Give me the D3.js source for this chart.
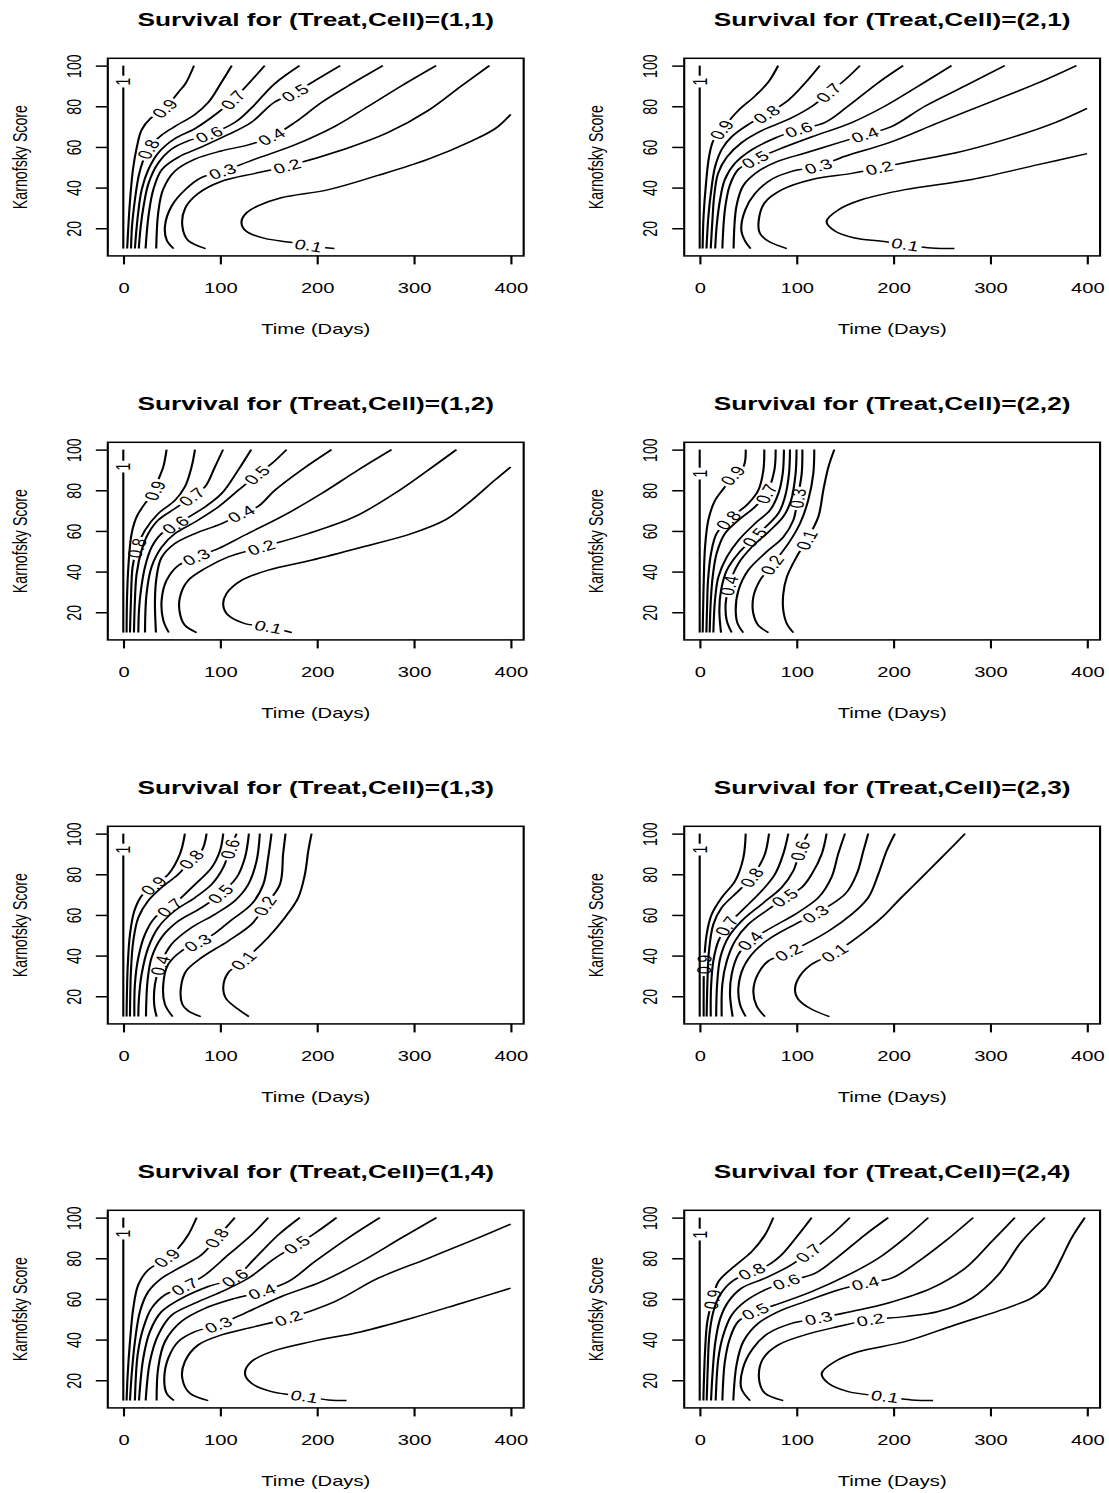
<!DOCTYPE html>
<html>
<head>
<meta charset="utf-8">
<script src="https://cdn.jsdelivr.net/npm/d3@7"></script>
<style>
  body { margin: 0; background: #fff; }
  text { font-family: "Liberation Sans", Arial, Helvetica, sans-serif; fill: #000; }
</style>
</head>
<body>
<div id="chart"></div>
<script>
//! DATA
const panelTitles = [
  'Survival for (Treat,Cell)=(1,1)', 'Survival for (Treat,Cell)=(2,1)',
  'Survival for (Treat,Cell)=(1,2)', 'Survival for (Treat,Cell)=(2,2)',
  'Survival for (Treat,Cell)=(1,3)', 'Survival for (Treat,Cell)=(2,3)',
  'Survival for (Treat,Cell)=(1,4)', 'Survival for (Treat,Cell)=(2,4)'
];
const xTicks = [0, 100, 200, 300, 400];
const yTicks = [20, 40, 60, 80, 100];
const xTitle = 'Time (Days)';
const yTitle = 'Karnofsky Score';

// contour lines: [day, karnofsky] points, lab = where the level label sits
const contours11 = [
  {lev: 1, lab: [0, 92], pts: [[0, 10], [0, 100]]},
  {lev: 0.9, lab: [43, 79], pts: [[73, 100], [64, 91], [57, 87], [43, 79], [28, 74], [19, 68.5], [14, 60], [10, 49], [7, 34], [5, 19], [4, 10]]},
  {lev: 0.8, lab: [26, 59], pts: [[112, 100], [101, 91.5], [88, 82], [74, 76], [53, 70], [40, 66], [31, 62], [26, 59], [21, 54], [16, 46], [12, 34], [9, 21], [8, 10]]},
  {lev: 0.7, lab: [113, 83], pts: [[146, 100], [113, 83], [98, 77], [74, 69], [53, 64], [36, 57], [26, 49], [19, 39], [15, 26], [12, 10]]},
  {lev: 0.6, lab: [88, 66], pts: [[182, 100], [156, 91], [132, 79], [115, 72], [88, 66], [67, 63], [50, 59], [36, 52], [26, 42], [21, 31], [18, 21], [16, 10]]},
  {lev: 0.5, lab: [177, 86.5], pts: [[224, 100], [194, 91.5], [177, 86.5], [156, 82], [132, 72], [108, 66], [81, 60], [57, 55], [40, 49], [31, 39], [26, 26], [23, 10]]},
  {lev: 0.4, lab: [153, 65], pts: [[268, 100], [232, 90], [205, 82], [177, 72], [153, 65], [129, 61], [101, 58], [74, 54], [53, 48], [41, 39], [36, 27.5], [34, 10]]},
  {lev: 0.3, lab: [103, 48], pts: [[323, 100], [287, 90], [253, 80], [218, 70], [177, 61], [136, 54], [103, 48], [81, 45], [64, 39], [50, 31], [43, 21], [45, 14], [52, 10]]},
  {lev: 0.2, lab: [169, 50.5], pts: [[378, 100], [349, 90], [315, 78], [273, 67], [229, 59], [169, 50.5], [136, 47], [101, 43], [77, 37], [64, 30], [61, 21], [67, 14], [85, 10]]},
  {lev: 0.1, lab: [191, 11.5], pts: [[400, 76], [384, 69], [360, 63], [315, 54], [263, 46], [212, 39], [163, 35], [139, 31], [127, 27.5], [122, 23], [127, 18.5], [146, 15], [174, 13], [191, 11.5], [218, 10]]}
];
const contours21 = [
  {lev: 1, lab: [0, 92.3], pts: [[0, 10], [0, 100]]},
  {lev: 0.9, lab: [22.7, 68.5], pts: [[81, 100], [71, 92], [57, 85], [40, 78], [22.7, 68.5], [14, 63], [9.6, 55], [6.5, 42], [4, 26], [3, 10]]},
  {lev: 0.8, lab: [69, 76], pts: [[124, 100], [109, 91.5], [91.5, 83], [69, 76], [50, 71], [33, 65], [23, 59], [16, 50.5], [12, 39], [9, 26], [7, 10]]},
  {lev: 0.7, lab: [133, 86.6], pts: [[165.5, 100], [150, 93], [133, 86.6], [116, 80], [91.5, 73.5], [64, 68], [43, 62], [28, 55], [19, 47], [15, 36], [13, 23], [11.4, 10]]},
  {lev: 0.6, lab: [102, 68.5], pts: [[210, 100], [184, 91.5], [153, 80], [129, 72], [102, 68.5], [78, 64.4], [54, 58.7], [36.5, 52], [26, 44], [21, 34], [17.5, 21], [16, 10]]},
  {lev: 0.5, lab: [57, 53.8], pts: [[260, 100], [226, 90], [191, 80], [157, 72], [116, 65], [81, 58.7], [57, 53.8], [40, 49], [31, 41], [26, 29], [23.4, 10]]},
  {lev: 0.4, lab: [170.6, 66], pts: [[315, 100], [274, 90], [232.5, 80], [198, 70], [170.6, 66], [143, 62], [109, 57], [81, 53], [60.5, 48], [45, 41], [38, 31], [35, 10]]},
  {lev: 0.3, lab: [122.5, 50.5], pts: [[389, 100], [349.5, 91.5], [298, 81.7], [246, 71.8], [195, 62], [150, 55.4], [122.5, 50.5], [95, 48], [74, 44], [57, 37], [47, 29], [43, 19], [47, 13.6], [52.6, 10]]},
  {lev: 0.2, lab: [186, 49.7], pts: [[400, 79], [367, 72], [315, 63.6], [263.5, 57], [219, 53], [186, 49.7], [157, 47], [116, 44], [85, 39], [67, 32.5], [61, 24], [62, 17.7], [71, 13.6], [90, 10]]},
  {lev: 0.1, lab: [212, 12], pts: [[400, 56.7], [349.5, 51.3], [281, 44], [212, 39], [167, 34], [143, 29], [131, 23.4], [140, 18.5], [160, 15.2], [188, 13.6], [212, 12], [239, 10.3], [263, 10]]}
];
const contours12 = [
  {lev: 1, lab: [0, 91.5], pts: [[0, 10], [0, 100]]},
  {lev: 0.9, lab: [32.7, 80], pts: [[44.7, 100], [41.3, 91.5], [36, 85], [32.7, 80], [22.4, 73.5], [13.8, 67], [8.6, 58.7], [5.2, 42.3], [3.8, 26], [3.4, 10]]},
  {lev: 0.8, lab: [13.8, 51.3], pts: [[74, 100], [70.5, 91.5], [63.6, 81.7], [53.3, 75], [36, 68.5], [22.4, 60.3], [13.8, 51.3], [9.6, 42.3], [7.9, 26], [6.9, 10]]},
  {lev: 0.7, lab: [70.5, 76.7], pts: [[103, 100], [94.6, 91.5], [84.3, 81.7], [70.5, 76.7], [53.3, 71], [36, 65.3], [25.8, 58.7], [18.9, 50.5], [13.8, 39], [12, 26], [11, 10]]},
  {lev: 0.6, lab: [53.3, 62.8], pts: [[132, 100], [118.7, 90], [101.5, 78.4], [84.3, 71.8], [53.3, 62.8], [39.6, 58.7], [29.2, 52], [22.4, 42.3], [18.2, 30.8], [16.2, 21], [15.5, 10]]},
  {lev: 0.5, lab: [137.6, 87.4], pts: [[168.6, 100], [153, 93], [137.6, 87.4], [118.7, 80], [98, 71.8], [74, 64.4], [53.3, 58.7], [39.6, 52], [29.2, 42.3], [24, 29], [22.4, 10]]},
  {lev: 0.4, lab: [122, 68.5], pts: [[215, 100], [184, 90], [156.5, 80], [139, 72], [122, 68.5], [101.5, 63.6], [74, 58.7], [53.3, 53.8], [39.6, 47], [34.4, 37.4], [32.7, 26], [33.7, 10]]},
  {lev: 0.3, lab: [75.7, 47.2], pts: [[277, 100], [242.5, 90], [204.7, 78.4], [163.4, 67], [125.6, 58], [98, 51.3], [75.7, 47.2], [56.8, 43], [44.7, 35.7], [39.6, 26], [41.3, 16], [47, 10]]},
  {lev: 0.2, lab: [142.8, 52], pts: [[344, 100], [315, 90], [280, 78.4], [239, 67], [191, 58.7], [142.8, 52], [108.4, 47.2], [84.3, 41.5], [67, 35.7], [58.5, 27.5], [58.5, 19.3], [63.6, 13.6], [75.7, 10]]},
  {lev: 0.1, lab: [149.6, 12.8], pts: [[400, 91.5], [383.6, 85], [359.5, 75], [332, 65.3], [297.6, 58.7], [246, 52], [194, 45.6], [149.6, 40.7], [122, 35.7], [106.6, 29.2], [103.2, 23.4], [108.4, 18.5], [125.6, 14.4], [149.6, 12.8], [171.6, 10.3], [174, 10]]}
];
const contours22 = [
  {lev: 1, lab: [0, 88], pts: [[0, 10], [0, 100]]},
  {lev: 0.9, lab: [34.4, 87.4], pts: [[47.5, 100], [45, 91.5], [34.4, 87.4], [26, 81.7], [15.8, 75], [8.9, 65.3], [5.5, 52], [4.1, 34], [3.4, 19], [3.1, 10]]},
  {lev: 0.8, lab: [29.6, 65.3], pts: [[66.7, 100], [65.7, 89.7], [60.5, 80], [50.2, 73.5], [29.6, 65.3], [17.5, 58.7], [11.7, 49], [8.6, 35.7], [7.6, 22.6], [6.9, 10]]},
  {lev: 0.7, lab: [69, 78.4], pts: [[78.4, 100], [77, 89.7], [69, 78.4], [57, 71.8], [40, 65.3], [26, 58.7], [17.5, 49], [13.4, 37.4], [11.3, 24.3], [10.3, 10]]},
  {lev: 0.6, lab: null, pts: [[87, 100], [85.7, 88.2], [81.2, 78.4], [72.6, 70.2], [57, 63.6], [40, 55.4], [28, 47.2], [19.3, 37.4], [15.8, 26], [14.1, 10]]},
  {lev: 0.5, lab: [57, 57], pts: [[93.2, 100], [92.2, 88.2], [88, 76.7], [81, 68.5], [57, 57], [40, 49], [28, 40.7], [22, 30.8], [20.3, 21], [22, 10]]},
  {lev: 0.4, lab: [30.3, 33.3], pts: [[100, 100], [99, 88.2], [94.3, 75], [86.3, 67], [71, 59.5], [53.7, 52], [40, 44], [30.3, 33.3], [26.8, 24.3], [27.9, 16], [33, 10]]},
  {lev: 0.3, lab: [101, 76], pts: [[106, 100], [105.3, 88.2], [101, 76], [96.7, 65.3], [86.3, 57], [67.4, 49], [50.2, 40.7], [40, 30.8], [37.2, 21], [39.2, 14.4], [45, 10]]},
  {lev: 0.2, lab: [74.3, 43], pts: [[118.3, 100], [117.3, 88.2], [112, 75], [103.5, 63.6], [91.5, 53.8], [74.3, 43], [62.3, 35.7], [55.4, 27.5], [55.4, 19.3], [60.5, 13.6], [71, 10]]},
  {lev: 0.1, lab: [110.4, 55.4], pts: [[139, 100], [132.8, 91.3], [127.6, 80], [122.5, 67], [110.4, 55.4], [100, 47.2], [90, 37.4], [86.3, 29], [86.3, 21], [90, 14.4], [96.7, 10]]}
];
const contours13 = [
  {lev: 1, lab: [0, 92.3], pts: [[0, 10], [0, 100]]},
  {lev: 0.9, lab: [31, 74.3], pts: [[63.6, 100], [58.5, 90], [46.4, 80], [31, 74.3], [18.9, 69.4], [11.4, 62], [6.9, 50.5], [4.5, 34], [3.4, 10]]},
  {lev: 0.8, lab: [70.5, 87.4], pts: [[86, 100], [80.8, 91.5], [70.5, 87.4], [56.8, 80], [39.6, 73.5], [25.8, 67], [15.5, 58.7], [10.3, 47.2], [7.9, 32.5], [6.9, 10]]},
  {lev: 0.7, lab: [48.2, 63.6], pts: [[103.2, 100], [99.8, 91.5], [91.2, 83.3], [74, 75], [48.2, 63.6], [32.7, 58.7], [22.4, 50.5], [15.5, 39], [12, 26], [11.4, 10]]},
  {lev: 0.6, lab: [110, 92.3], pts: [[117, 100], [110, 92.3], [103.2, 83.3], [91.2, 75], [74, 68.5], [53, 62], [36, 53.8], [25.8, 44], [18.9, 30.8], [16.2, 19.3], [15.5, 10]]},
  {lev: 0.5, lab: [100, 70.2], pts: [[129.7, 100], [125.6, 88.2], [117, 78.4], [100, 70.2], [80.8, 63.6], [56.8, 57], [39.6, 49], [29.2, 39], [25, 27.5], [23.4, 10]]},
  {lev: 0.4, lab: [37.8, 35], pts: [[141, 100], [137.6, 86.6], [129, 75], [115.2, 67], [94.6, 60.3], [70.5, 53.8], [49.9, 45.6], [37.8, 35], [32.7, 26], [31.9, 16], [34.4, 10]]},
  {lev: 0.3, lab: [77.4, 46.4], pts: [[153, 100], [149.6, 88.2], [144.5, 75], [132.4, 65.3], [110.4, 57], [93.2, 50.5], [77.4, 46.4], [60.2, 42.3], [46.4, 35.7], [41.3, 26], [43, 16], [51, 10]]},
  {lev: 0.2, lab: [146.2, 64.4], pts: [[167.5, 100], [165, 90], [161.7, 75], [146.2, 64.4], [132.4, 55.4], [108.4, 47.2], [80.8, 39], [65, 32.5], [59.5, 24.3], [61, 16], [67, 12.8], [80, 10]]},
  {lev: 0.1, lab: [123.8, 37.4], pts: [[194.4, 100], [191, 91.5], [187.5, 80], [180.6, 68.5], [166.8, 58.7], [149.6, 49], [123.8, 37.4], [108.4, 31.6], [103.2, 24.3], [106.6, 18.5], [118.7, 13.6], [129.7, 10]]}
];
const contours23 = [
  {lev: 1, lab: [0, 92.3], pts: [[0, 10], [0, 100]]},
  {lev: 0.9, lab: [4.5, 35.7], pts: [[47.5, 100], [45, 88], [36.5, 76.7], [22.7, 68.5], [12.4, 60.3], [7.2, 50.5], [4.5, 35.7], [4.1, 22.6], [4.1, 10]]},
  {lev: 0.8, lab: [53.7, 78.4], pts: [[71.6, 100], [67.4, 90], [60.5, 83.3], [53.7, 78.4], [40, 71.8], [22.7, 63.6], [14.1, 55.4], [9.6, 42.3], [7.9, 26], [7.2, 10]]},
  {lev: 0.7, lab: [27.9, 54.6], pts: [[91.5, 100], [86.3, 90], [77.7, 80], [64, 71.8], [43.3, 62], [27.9, 54.6], [19.3, 47.2], [14.1, 37.4], [11.7, 24.3], [11.4, 10]]},
  {lev: 0.6, lab: [103.5, 91.5], pts: [[111.5, 100], [103.5, 91.5], [96.7, 81.7], [84.6, 73.5], [64, 65.3], [43.3, 57], [29.6, 49], [21.3, 39], [18, 26], [17, 10]]},
  {lev: 0.5, lab: [88, 68.5], pts: [[131, 100], [126, 90], [115.6, 80], [105.3, 73.5], [88, 68.5], [71, 62.8], [50.2, 55.4], [36.5, 47.2], [28, 37.4], [23.4, 26], [22.7, 10]]},
  {lev: 0.4, lab: [52, 47.2], pts: [[150, 100], [143, 90], [136, 78.4], [122.5, 68.5], [98.4, 60.3], [74.3, 53.8], [52, 47.2], [40, 40.7], [33, 30.8], [31.3, 21], [34, 10]]},
  {lev: 0.3, lab: [119, 60.3], pts: [[174, 100], [169, 91.5], [162, 80], [150, 70.2], [119, 60.3], [98.4, 55.4], [74.3, 49], [57, 42.3], [45, 34], [40, 24.3], [41.6, 16], [47.5, 10]]},
  {lev: 0.2, lab: [91.5, 41.5], pts: [[201.6, 100], [193, 91.5], [184.4, 80], [174, 68.5], [157, 60.3], [132.8, 52], [91.5, 41.5], [71, 37.4], [60, 30.8], [55.4, 22.6], [58.8, 15.2], [67.4, 10]]},
  {lev: 0.1, lab: [139.7, 41.5], pts: [[274, 100], [256.6, 91.5], [236, 81.7], [222, 75], [205, 67], [188, 58.7], [167, 50.5], [139.7, 41.5], [115.6, 35.7], [103.5, 30], [98.4, 23.4], [101.8, 18.5], [115.6, 13.6], [134, 10]]}
];
const contours14 = [
  {lev: 1, lab: [0, 92.3], pts: [[0, 10], [0, 100]]},
  {lev: 0.9, lab: [44.7, 80], pts: [[75.7, 100], [67, 91.5], [56.8, 85], [44.7, 80], [25.8, 74.3], [15.5, 67], [10.3, 55.4], [6.9, 39], [4.5, 22.6], [3.4, 10]]},
  {lev: 0.8, lab: [96.3, 89.9], pts: [[115.2, 100], [96.3, 89.9], [80.8, 81.7], [56.8, 75], [39.6, 70.2], [25.8, 63.6], [17.2, 53.8], [12, 39], [8.6, 22.6], [6.9, 10]]},
  {lev: 0.7, lab: [63.6, 66.1], pts: [[149.6, 100], [132.4, 91.5], [108.4, 81.7], [84.3, 71.8], [63.6, 66.1], [43, 62], [29.2, 55.4], [20.6, 45.6], [14.8, 32.5], [12, 10]]},
  {lev: 0.6, lab: [114.6, 70.2], pts: [[182.3, 100], [160, 91.5], [136, 80], [114.6, 70.2], [87.7, 66.1], [60.2, 60.3], [39.6, 53.8], [27.5, 44], [20.6, 30.8], [16.2, 10]]},
  {lev: 0.5, lab: [178.9, 86.6], pts: [[220.2, 100], [197.8, 92.3], [178.9, 86.6], [156.5, 80], [129, 70.2], [101.5, 63.6], [74, 57.9], [49.9, 52], [36, 42.3], [27.5, 29.2], [23.1, 10]]},
  {lev: 0.4, lab: [142.8, 63.6], pts: [[264.9, 100], [232.2, 90], [197.8, 78.4], [170.3, 68.5], [142.8, 63.6], [115.2, 60.3], [84.3, 55.4], [60.2, 49], [43, 39], [36, 26], [34.4, 10]]},
  {lev: 0.3, lab: [98, 47.2], pts: [[323.4, 100], [287.2, 90], [245.9, 78.4], [204.7, 68.5], [163.4, 61.2], [129, 53.8], [98, 47.2], [74, 43.9], [56.8, 39], [46.4, 30.8], [42.3, 21], [44.7, 13.6], [52.3, 10]]},
  {lev: 0.2, lab: [170.3, 50.5], pts: [[400, 96.8], [366.4, 90], [314.8, 80], [263.2, 70.2], [218.4, 58.7], [170.3, 50.5], [135.9, 46.4], [101.5, 42.3], [77.4, 37.4], [63.6, 29.2], [60.9, 21], [68.8, 13.6], [87.7, 10]]},
  {lev: 0.1, lab: [187.5, 12], pts: [[400, 65.3], [349.2, 57.9], [297.6, 50.5], [246, 43.9], [194.4, 39], [153.1, 34.1], [132.4, 29.2], [125.6, 23.4], [132.4, 18.5], [153.1, 14.4], [187.5, 12], [211.6, 10.3], [230.5, 10]]}
];
const contours24 = [
  {lev: 1, lab: [0, 91.5], pts: [[0, 10], [0, 100]]},
  {lev: 0.9, lab: [13.1, 59.5], pts: [[76, 100], [67.4, 91.5], [53.7, 83.3], [33, 75], [19.3, 68.5], [13.1, 59.5], [7.9, 49], [5.5, 34], [3.8, 10]]},
  {lev: 0.8, lab: [53.7, 73.5], pts: [[115.6, 100], [101.8, 91.5], [84.6, 81.7], [70.9, 76.7], [53.7, 73.5], [33, 68.5], [21, 62], [14.1, 53.8], [10, 42.3], [8.3, 26], [7.2, 10]]},
  {lev: 0.7, lab: [112, 82.5], pts: [[155, 100], [136, 91.5], [112, 82.5], [91.5, 75.9], [67.4, 70.2], [43.3, 65.3], [29.6, 58.7], [21.3, 50.5], [16.2, 39], [13.4, 24.3], [11.7, 10]]},
  {lev: 0.6, lab: [89.8, 68.5], pts: [[194.7, 100], [170.6, 91.5], [143, 80.8], [119, 72.6], [89.8, 68.5], [67.4, 64.4], [46.8, 58.7], [33, 52], [24.4, 42.3], [19.3, 30.8], [16.5, 10]]},
  {lev: 0.5, lab: [57, 53.8], pts: [[236, 100], [212, 90], [184.4, 80], [153.4, 71.8], [115.6, 63.6], [77.7, 57], [57, 53.8], [40, 49], [31.3, 40.7], [26, 29.2], [23.4, 10]]},
  {lev: 0.4, lab: [170.6, 67.7], pts: [[282.4, 100], [253, 88.2], [225.7, 78.4], [198, 70.2], [170.6, 67.7], [143, 64.4], [108.7, 58.7], [81.2, 53.8], [60.5, 48], [45, 39], [38, 27.5], [34.7, 10]]},
  {lev: 0.3, lab: [122.5, 50.5], pts: [[325.4, 100], [301.4, 88.2], [273.8, 75], [239.4, 65.3], [194.7, 58], [157, 53.8], [122.5, 50.5], [95, 48], [70.5, 43], [55, 35.7], [44.7, 26], [43, 16], [52, 10]]},
  {lev: 0.2, lab: [175.8, 49.7], pts: [[356.4, 100], [332.3, 88.2], [308.2, 71.8], [280.7, 60.3], [246.3, 53.8], [212, 51.3], [175.8, 49.7], [143, 46.4], [108.7, 42.3], [81.2, 37.4], [65.7, 30.8], [61.2, 21], [67.4, 13.6], [86.3, 10]]},
  {lev: 0.1, lab: [191.3, 12], pts: [[397.7, 100], [384, 90], [373.6, 80], [365, 72], [356, 65.5], [343, 60.5], [320, 56], [263.5, 47.2], [212, 39], [163.7, 34], [139.7, 29.2], [126, 23.4], [132.8, 18.5], [153.4, 14.4], [191.3, 12], [218.8, 10.3], [241, 10]]}
];

// panels in reading order (row by row)
const panels = [contours11, contours21, contours12, contours22, contours13, contours23, contours14, contours24];

//! LAYOUT
const W = 1109, H = 1493;
const SX = 1.42;                 // the whole picture is stretched sideways
const COL_X0 = [123.3, 699.7];   // screen x of day 0 in each column
const PX_DAY = 0.9685;
const ROW_STEP = 384;
const BOX_TOP = 58.3, BOX_BOT = 255.9;
const LW = 1.5;

const svg = d3.select('#chart').append('svg')
  .attr('width', W)
  .attr('height', H);
svg.append('rect').attr('width', W).attr('height', H).attr('fill', '#fff');
const defs = svg.append('defs');
const root = svg.append('g').attr('transform', `scale(${SX},1)`);

panels.forEach((lines, i) => {
  const col = i % 2, row = Math.floor(i / 2);
  const x0 = COL_X0[col] / SX;
  const x = d3.scaleLinear().domain([0, 400]).range([x0, x0 + 400 * PX_DAY / SX]);
  const y = d3.scaleLinear().domain([6.4, 103.6])
    .range([BOX_BOT + row * ROW_STEP, BOX_TOP + row * ROW_STEP]);

  const left = x(-16), right = x(413.4), top = y(103.6), bottom = y(6.4);
  const cx = (left + right) / 2;
  const g = root.append('g');

  // title
  g.append('text')
    .attr('x', cx)
    .attr('y', 26.5 + row * ROW_STEP)
    .attr('text-anchor', 'middle')
    .style('font-size', '18.5px')
    .style('font-weight', 'bold')
    .text(panelTitles[i]);

  // contour lines
  const line = d3.line()
    .x(d => x(d[0]))
    .y(d => y(d[1]))
    .curve(d3.curveCatmullRom.alpha(0.5));

  lines.forEach((c, j) => {
    const path = g.append('path')
      .datum(c.pts)
      .attr('d', line)
      .attr('fill', 'none')
      .attr('stroke', '#000')
      .attr('stroke-width', LW);
    if (!c.lab) return;

    // snap the label onto the drawn line
    const node = path.node();
    const L = node.getTotalLength();
    const tx = x(c.lab[0]), ty = y(c.lab[1]);
    let best = 0, bd = Infinity;
    for (let s = 0; s <= L; s += 1) {
      const p = node.getPointAtLength(s);
      const d = ((p.x - tx) * SX) ** 2 + (p.y - ty) ** 2;
      if (d < bd) { bd = d; best = s; }
    }
    const p = node.getPointAtLength(best);
    const a = node.getPointAtLength(Math.max(0, best - 3));
    const b = node.getPointAtLength(Math.min(L, best + 3));
    let ang = Math.atan2(b.y - a.y, b.x - a.x) * 180 / Math.PI;
    if (ang >= 90) ang -= 180;
    if (ang < -90) ang += 180;
    const tf = `translate(${p.x},${p.y}) rotate(${ang})`;

    const t = g.append('text')
      .attr('transform', tf)
      .attr('text-anchor', 'middle')
      .attr('dy', '0.36em')
      .style('font-size', '14px')
      .text(String(c.lev));
    const tw = t.node().getComputedTextLength();

    // cut a gap in the line where the label sits
    const id = `gap${i}_${j}`;
    const m = defs.append('mask')
      .attr('id', id)
      .attr('maskUnits', 'userSpaceOnUse')
      .attr('x', -50).attr('y', -50)
      .attr('width', W + 100).attr('height', H + 100);
    m.append('rect').attr('x', -50).attr('y', -50)
      .attr('width', W + 100).attr('height', H + 100).attr('fill', '#fff');
    m.append('rect')
      .attr('transform', tf)
      .attr('x', -tw / 2 - 2).attr('y', -6)
      .attr('width', tw + 4).attr('height', 12)
      .attr('fill', '#000');
    path.attr('mask', `url(#${id})`);
  });

  // box
  g.append('rect')
    .attr('x', left).attr('y', top)
    .attr('width', right - left).attr('height', bottom - top)
    .attr('fill', 'none')
    .attr('stroke', '#000')
    .attr('stroke-width', LW);

  // x axis
  const xa = g.append('g')
    .attr('transform', `translate(0,${bottom})`)
    .call(d3.axisBottom(x).tickValues(xTicks).tickSize(8.5).tickFormat(d3.format('d')));
  xa.select('.domain').remove();
  xa.selectAll('line').attr('stroke', '#000').attr('stroke-width', LW);
  xa.selectAll('text')
    .attr('y', 37.6)
    .attr('dy', null)
    .style('font-size', '14.2px');

  // y axis
  const ya = g.append('g')
    .attr('transform', `translate(${left},0)`)
    .call(d3.axisLeft(y).tickValues(yTicks).tickSize(12 / SX).tickFormat(d3.format('d')));
  ya.select('.domain').remove();
  ya.selectAll('line').attr('stroke', '#000').attr('stroke-width', LW);
  ya.selectAll('text')
    .attr('x', null)
    .attr('dy', null)
    .attr('text-anchor', 'middle')
    .attr('transform', `translate(${-27.3 / SX},0) rotate(-90)`)
    .style('font-size', '14.2px');

  // axis titles
  g.append('text')
    .attr('x', cx)
    .attr('y', 334.5 + row * ROW_STEP)
    .attr('text-anchor', 'middle')
    .style('font-size', '14.2px')
    .text(xTitle);

  g.append('text')
    .attr('transform', `translate(${(26.5 + col * 576.4) / SX},${(top + bottom) / 2}) rotate(-90)`)
    .attr('text-anchor', 'middle')
    .style('font-size', '14.2px')
    .text(yTitle);
});
</script>
</body>
</html>
